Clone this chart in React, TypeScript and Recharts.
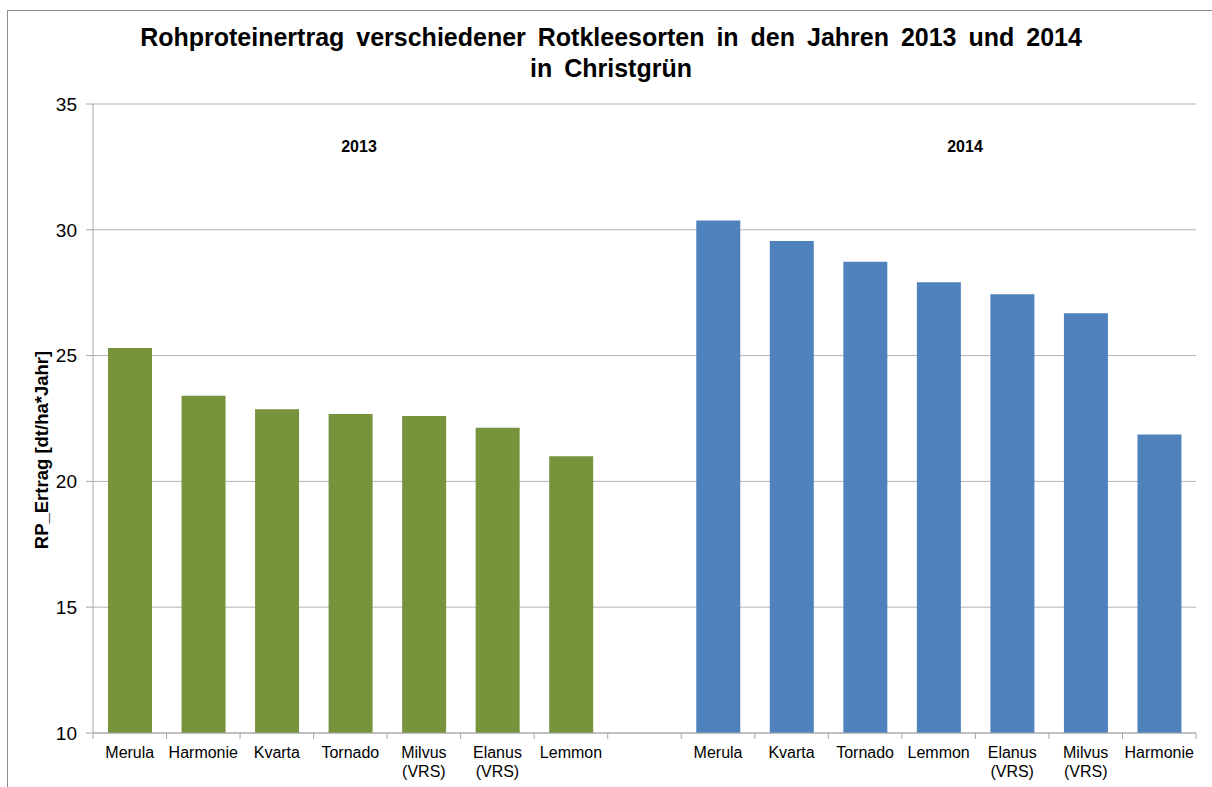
import React from 'react';
import { BarChart, Bar, XAxis, YAxis, CartesianGrid, Cell } from 'recharts';

const sorts2013 = ['Merula', 'Harmonie', 'Kvarta', 'Tornado', 'Milvus (VRS)', 'Elanus (VRS)', 'Lemmon'];
const values2013 = [25.3, 23.4, 22.87, 22.68, 22.6, 22.13, 21.0];
const sorts2014 = ['Merula', 'Kvarta', 'Tornado', 'Lemmon', 'Elanus (VRS)', 'Milvus (VRS)', 'Harmonie'];
const values2014 = [30.37, 29.55, 28.73, 27.92, 27.44, 26.68, 21.86];
const yTicks = [10, 15, 20, 25, 30, 35];

const colors: Record<string, string> = { '2013': '#77933C', '2014': '#4F81BD' };

// one empty slot between the two years
const rows = [
  ...sorts2013.map((name, i) => ({ key: 'a' + i, name, value: values2013[i], year: '2013' })),
  { key: 'gap', name: '', value: null as number | null, year: '' },
  ...sorts2014.map((name, i) => ({ key: 'b' + i, name, value: values2014[i], year: '2014' })),
];

const W = 1212;
const H = 787;
const PLOT_LEFT = 93;
const PLOT_RIGHT = 1196;
const PLOT_TOP = 104;
const PLOT_BOTTOM = 733;
const SLOT = (PLOT_RIGHT - PLOT_LEFT) / rows.length;
const font = '"Liberation Sans", Arial, sans-serif';

function SortTick(props: any) {
  const { x, payload, index } = props;
  const row = rows.find((r) => r.key === payload.value);
  const parts = row && row.name ? row.name.split(' (') : [];
  const lines = parts.length > 1 ? [parts[0], '(' + parts[1]] : parts;
  return (
    <g>
      <line x1={x - SLOT / 2} y1={PLOT_BOTTOM} x2={x - SLOT / 2} y2={PLOT_BOTTOM + 6} stroke="#a6a6a6" />
      {index === rows.length - 1 && (
        <line x1={x + SLOT / 2} y1={PLOT_BOTTOM} x2={x + SLOT / 2} y2={PLOT_BOTTOM + 6} stroke="#a6a6a6" />
      )}
      <text textAnchor="middle" fill="#000" fontSize={16} fontFamily={font}>
        {lines.map((l, i) => (
          <tspan key={i} x={x} y={758 + i * 19}>
            {l}
          </tspan>
        ))}
      </text>
    </g>
  );
}

export default function App() {
  return (
    <div style={{ position: 'absolute', left: 0, top: 0, width: W, height: H, background: '#fff', overflow: 'hidden' }}>
      <div style={{ position: 'absolute', left: 7, top: 10, right: -2, bottom: -2, border: '1.5px solid #8c8c8c' }} />
      <div
        style={{
          position: 'absolute',
          left: 5,
          top: 22,
          width: W,
          textAlign: 'center',
          fontFamily: font,
          fontWeight: 'bold',
          fontSize: 25,
          lineHeight: '31px',
          wordSpacing: 5,
          color: '#000',
        }}
      >
        Rohproteinertrag verschiedener Rotkleesorten in den Jahren 2013 und 2014
        <br />
        in Christgrün
      </div>
      <BarChart
        width={W}
        height={H}
        data={rows}
        margin={{ top: PLOT_TOP, right: W - PLOT_RIGHT, bottom: 0, left: 0 }}
        barSize={44}
        style={{ position: 'absolute', left: 0, top: 0 }}
      >
        <CartesianGrid vertical={false} stroke="#b3b3b3" />
        <XAxis
          dataKey="key"
          interval={0}
          height={H - PLOT_BOTTOM}
          axisLine={{ stroke: '#a6a6a6' }}
          tickLine={false}
          tick={<SortTick />}
        />
        <YAxis
          width={PLOT_LEFT}
          domain={[10, 35]}
          ticks={yTicks}
          allowDataOverflow
          axisLine={{ stroke: '#a6a6a6' }}
          tickLine={{ stroke: '#a6a6a6' }}
          tickSize={7}
          tickMargin={9}
          tick={{ fill: '#000', fontSize: 19, fontFamily: font }}
        />
        <Bar dataKey="value" isAnimationActive={false}>
          {rows.map((r) => (
            <Cell key={r.key} fill={colors[r.year] || '#fff'} />
          ))}
        </Bar>
      </BarChart>
      <div
        style={{
          position: 'absolute',
          left: 42,
          top: 450,
          transform: 'translate(-50%, -50%) rotate(-90deg)',
          whiteSpace: 'nowrap',
          fontFamily: font,
          fontWeight: 'bold',
          fontSize: 18.5,
        }}
      >
        RP_Ertrag [dt/ha*Jahr]
      </div>
      {['2013', '2014'].map((y, i) => (
        <div
          key={y}
          style={{
            position: 'absolute',
            left: i === 0 ? 359 : 965,
            top: 147,
            transform: 'translate(-50%, -50%)',
            fontFamily: font,
            fontWeight: 'bold',
            fontSize: 16,
          }}
        >
          {y}
        </div>
      ))}
    </div>
  );
}
